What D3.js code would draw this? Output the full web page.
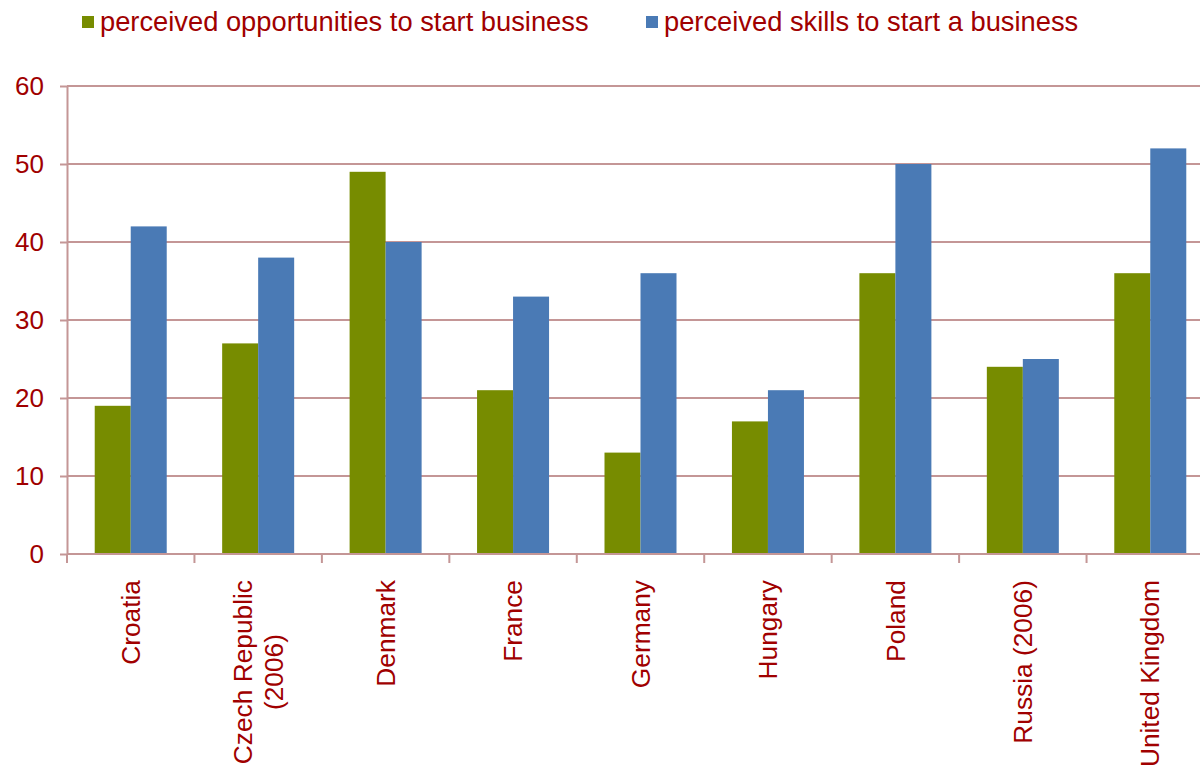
<!DOCTYPE html>
<html>
<head>
<meta charset="utf-8">
<script src="https://cdn.jsdelivr.net/npm/d3@7"></script>
<style>
  html, body { margin: 0; padding: 0; background: #ffffff; }
  svg { display: block; font-family: "Liberation Sans", Arial, sans-serif; }
</style>
</head>
<body>
<svg id="chart" width="1200" height="769"></svg>
<script>
// Countries (multi-line labels split on "\n")
const countries = [
  "Croatia",
  "Czech Republic\n(2006)",
  "Denmark",
  "France",
  "Germany",
  "Hungary",
  "Poland",
  "Russia (2006)",
  "United Kingdom"
];
const seriesNames = [
  "perceived opportunities to start business",
  "perceived skills to start a business"
];
const opportunities = [19, 27, 49, 21, 13, 17, 36, 24, 36];
const skills = [42, 38, 40, 33, 36, 21, 50, 25, 52];
const yTicks = [0, 10, 20, 30, 40, 50, 60];

const colors = ["#778C00", "#4A7AB5"];
const textColor = "#A00000";
const gridColor = "#C49696";

const svg = d3.select("#chart");
const margin = { left: 67, top: 86, bottom: 554, right: 1214 };

const x0 = d3.scaleBand()
  .domain(countries)
  .range([margin.left, margin.right])
  .paddingInner(0)
  .paddingOuter(0);

const x1 = d3.scaleBand()
  .domain([0, 1])
  .range([0, x0.bandwidth()])
  .paddingInner(0)
  .paddingOuter(0.77);

const y = d3.scaleLinear()
  .domain([0, 60])
  .range([margin.bottom, margin.top]);

// Horizontal gridlines
svg.append("g")
  .selectAll("line")
  .data(yTicks)
  .join("line")
  .attr("x1", margin.left)
  .attr("x2", margin.right)
  .attr("y1", d => y(d))
  .attr("y2", d => y(d))
  .attr("stroke", gridColor)
  .attr("stroke-width", 2);

// Y axis
const yAxis = svg.append("g")
  .attr("transform", `translate(${margin.left},0)`)
  .call(d3.axisLeft(y).tickValues(yTicks).tickSize(7).tickPadding(16).tickSizeOuter(0));
yAxis.select(".domain").attr("stroke", gridColor).attr("stroke-width", 2);
yAxis.selectAll(".tick line").attr("stroke", gridColor).attr("stroke-width", 2);
yAxis.selectAll(".tick text")
  .attr("fill", textColor)
  .style("font-size", "26px")
  .style("font-family", "'Liberation Sans', Arial, sans-serif");

// Bars
const groups = svg.append("g")
  .selectAll("g")
  .data(countries.map((c, i) => ({ c, vals: [opportunities[i], skills[i]] })))
  .join("g")
  .attr("transform", d => `translate(${x0(d.c)},0)`);

groups.selectAll("rect")
  .data(d => d.vals.map((v, k) => ({ v, k })))
  .join("rect")
  .attr("x", d => x1(d.k))
  .attr("width", x1.bandwidth())
  .attr("y", d => y(d.v))
  .attr("height", d => y(0) - y(d.v))
  .attr("fill", d => colors[d.k]);

// X axis baseline and boundary ticks
const boundaries = countries.map(c => x0(c)).concat([margin.right]);
svg.append("line")
  .attr("x1", margin.left).attr("x2", margin.right)
  .attr("y1", y(0)).attr("y2", y(0))
  .attr("stroke", gridColor).attr("stroke-width", 2);
svg.append("g")
  .selectAll("line")
  .data(boundaries)
  .join("line")
  .attr("x1", d => d).attr("x2", d => d)
  .attr("y1", y(0)).attr("y2", y(0) + 9)
  .attr("stroke", gridColor).attr("stroke-width", 2);

// Rotated category labels
const labelTop = 580;
const lineH = 31;
countries.forEach(c => {
  const lines = c.split("\n");
  const cx = x0(c) + x0.bandwidth() / 2;
  const t = svg.append("text")
    .attr("fill", textColor)
    .style("font-size", "26.3px")
    .attr("text-anchor", "middle");
  lines.forEach((ln, i) => {
    t.append("tspan")
      .attr("x", 0)
      .attr("y", (i - (lines.length - 1) / 2) * lineH)
      .attr("dy", "0.35em")
      .text(ln);
  });
  let maxLen = 0;
  t.selectAll("tspan").each(function () {
    maxLen = Math.max(maxLen, this.getComputedTextLength());
  });
  t.attr("transform", `translate(${cx},${labelTop + maxLen / 2}) rotate(-90)`);
});

// Legend
const legendItems = [
  { name: seriesNames[0], color: colors[0], x: 82 },
  { name: seriesNames[1], color: colors[1], x: 646 }
];
const legend = svg.append("g");
legendItems.forEach(item => {
  legend.append("rect")
    .attr("x", item.x).attr("y", 16)
    .attr("width", 12).attr("height", 12)
    .attr("fill", item.color);
  legend.append("text")
    .attr("x", item.x + 18).attr("y", 31)
    .attr("fill", textColor)
    .style("font-size", "27.3px")
    .text(item.name);
});
</script>
</body>
</html>
